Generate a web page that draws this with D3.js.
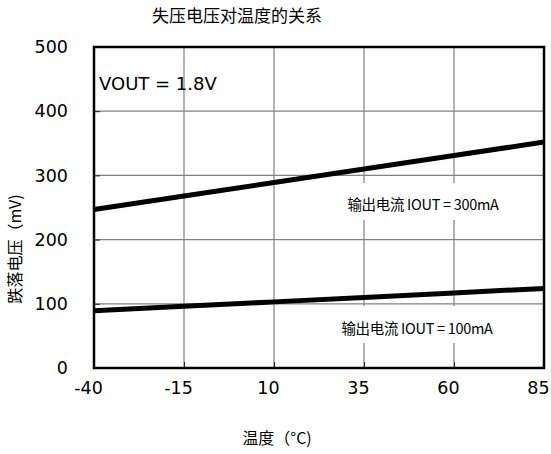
<!DOCTYPE html>
<html><head><meta charset="utf-8">
<script src="https://cdn.jsdelivr.net/npm/d3@7"></script>
<style>
html,body{margin:0;padding:0;background:#fff;}
svg{display:block;}
text{font-family:"DejaVu Sans",sans-serif;fill:#000;}
.cjk{font-family:"Noto Sans CJK SC","DejaVu Sans",sans-serif;}
</style></head>
<body>
<svg id="c" width="551" height="454"></svg>
<script>
const temps = [-40, -15, 10, 35, 60, 85];
const xTicks = [-40, -15, 10, 35, 60, 85];
const yTicks = [0, 100, 200, 300, 400, 500];
const iout300 = [247, 268, 289, 310, 331, 352];
const iout100 = [89, 96, 103, 110, 117, 124];
const seriesLabels = ["输出电流 IOUT = 300mA", "输出电流 IOUT = 100mA"];
const titleText = "失压电压对温度的关系";
const xTitle = "温度（°C)";
const yTitle = "跌落电压（mV)";
const vout = "VOUT = 1.8V";

const svg = d3.select("#c");
const L = 94, R = 544, T = 47, B = 368;
const x = d3.scaleLinear().domain([-40, 85]).range([L, R]);
const y = d3.scaleLinear().domain([0, 500]).range([B, T]);

// grid
svg.append("g").selectAll("line").data(xTicks.slice(1, -1)).join("line")
  .attr("x1", d => x(d)).attr("x2", d => x(d)).attr("y1", T).attr("y2", B)
  .attr("stroke", "#808080").attr("stroke-width", 1.2);
svg.append("g").selectAll("line").data(yTicks.slice(1, -1)).join("line")
  .attr("y1", d => y(d)).attr("y2", d => y(d)).attr("x1", L).attr("x2", R)
  .attr("stroke", "#808080").attr("stroke-width", 1.2);

// axes with inward ticks
const xa = svg.append("g").attr("transform", `translate(0,${B})`)
  .call(d3.axisBottom(x).tickValues(xTicks).tickSize(-6).tickPadding(14).tickFormat(d => String(d)));
const ya = svg.append("g").attr("transform", `translate(${L},0)`)
  .call(d3.axisLeft(y).tickValues(yTicks).tickSize(-6).tickPadding(26).tickFormat(d => String(d)));
[xa, ya].forEach(a => {
  a.select(".domain").remove();
  a.selectAll(".tick line").attr("stroke", "#222").attr("stroke-width", 1);
  a.selectAll(".tick text").attr("font-size", 17.5).attr("font-family", "DejaVu Sans").attr("fill", "#111");
});
xa.selectAll(".tick text").attr("dx", -6);

// label boxes
const labelData = [
  {t: seriesLabels[0], cx: 423, by: 183, h: 37, ty: 210},
  {t: seriesLabels[1], cx: 417, by: 306, h: 37, ty: 334}
];
svg.append("g").selectAll("rect").data(labelData).join("rect")
  .attr("x", d => d.cx - 84).attr("width", 168)
  .attr("y", d => d.by).attr("height", d => d.h).attr("fill", "#fff");
svg.append("g").selectAll("text").data(labelData).join("text")
  .attr("class", "cjk").attr("x", d => d.cx).attr("y", d => d.ty)
  .attr("text-anchor", "middle").attr("font-size", 14.5).attr("letter-spacing", -0.3)
  .attr("fill", "#111")
  .text(d => d.t);

// lines
const line = d3.line().x((d, i) => x(temps[i])).y(d => y(d));
[iout300, iout100].forEach(s => {
  svg.append("path").datum(s).attr("d", line).attr("fill", "none")
    .attr("stroke", "#000").attr("stroke-width", 5);
});

// frame
svg.append("rect").attr("x", L).attr("y", T).attr("width", R - L).attr("height", B - T)
  .attr("fill", "none").attr("stroke", "#000").attr("stroke-width", 2.5);

// texts
svg.append("text").attr("class", "cjk").attr("x", 237).attr("y", 22)
  .attr("text-anchor", "middle").attr("font-size", 17).attr("fill", "#111").text(titleText);
svg.append("text").attr("x", 99).attr("y", 90).attr("font-size", 18).attr("fill", "#111").text(vout);
svg.append("text").attr("class", "cjk").attr("x", 277).attr("y", 444)
  .attr("text-anchor", "middle").attr("font-size", 16).attr("fill", "#111").text(xTitle);
svg.append("text").attr("class", "cjk").attr("transform", "translate(21,249) rotate(-90)")
  .attr("text-anchor", "middle").attr("font-size", 16).attr("fill", "#111").text(yTitle);
</script>
</body></html>
